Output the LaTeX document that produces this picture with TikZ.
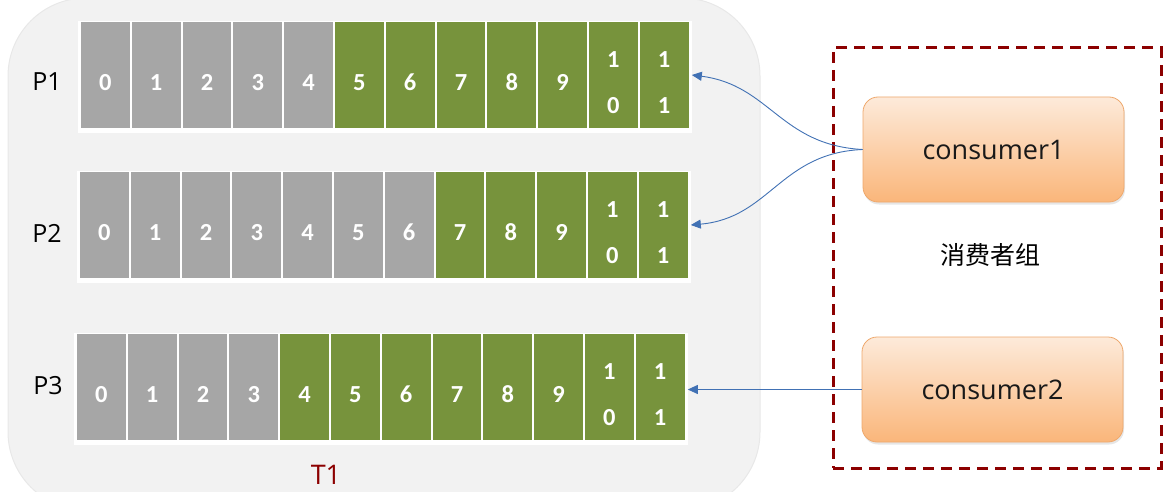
\documentclass[tikz,border=0pt]{standalone}
\usepackage{fontspec}
\setmainfont{Open Sans}
\newfontfamily\digitfont{Carlito}
\newfontfamily\cjkfont{Noto Sans CJK SC}
\usetikzlibrary{arrows.meta,shadows}
\definecolor{bggray}{RGB}{242,242,242}
\definecolor{cellgray}{RGB}{166,166,166}
\definecolor{cellgreen}{RGB}{119,147,60}
\definecolor{grpred}{RGB}{140,0,0}
\definecolor{connblue}{RGB}{65,113,180}
\definecolor{constop}{RGB}{253,234,218}
\definecolor{consbot}{RGB}{250,182,122}
\definecolor{consedge}{RGB}{238,168,108}
\newcommand\celA[1]{\raisebox{-15.5pt}[0pt][0pt]{\makebox[0pt]{#1}}}
\newcommand\celB[2]{\raisebox{-15.5pt}[0pt][0pt]{\makebox[0pt]{\raisebox{23pt}{#1}}\makebox[0pt]{\raisebox{-23pt}{#2}}}}
\tikzset{
  cellbox/.style={minimum width=48.8pt, minimum height=106pt, inner sep=0pt, text=white,
    font=\digitfont\bfseries\fontsize{24.5}{24.5}\selectfont},
  plab/.style={font=\fontsize{25}{25}\selectfont, text=black, inner sep=0pt},
  cons/.style={rounded corners=15pt, minimum width=261pt, minimum height=105pt,
    top color=constop, bottom color=consbot, draw=consedge, line width=0.8pt,
    font=\fontsize{27}{27}\selectfont, text=black!90,
    drop shadow={opacity=0.2, shadow xshift=1pt, shadow yshift=-2.5pt}},
  grpbox/.style={draw=grpred, line width=3pt, dash pattern=on 11pt off 7pt,
    minimum width=328pt, minimum height=420pt, inner sep=0pt},
  conn/.style={draw=connblue, line width=0.9pt, -{Triangle[length=10pt,width=9pt]}},
}
\begin{document}
\begin{tikzpicture}[x=1pt,y=-1pt]
\useasboundingbox (0,0) rectangle (1175,492);
% topic background
\fill[bggray, draw=gray!18, line width=1pt, rounded corners=78pt] (8,-2) rectangle (760,510);
% partitions
\foreach \r/\x/\y/\g in {1/80/22/5, 2/79/172/7, 3/76/334/4}{
  \fill[white] (\x-2,\y-1) rectangle ({\x+12*50.8+2},\y+111);
  \foreach \i in {0,...,11}{
    \ifnum\i<\g \def\cc{cellgray}\else\def\cc{cellgreen}\fi
    \ifnum\i<10 \def\ctext{\celA{\i}}\else
      \ifnum\i=10 \def\ctext{\celB{1}{0}}\else\def\ctext{\celB{1}{1}}\fi
    \fi
    \node[cellbox, fill=\cc] (p\r c\i) at ({\x+(\i+0.5)*50.8},\y+53) {\ctext};
  }
}
\node[plab] (lp1) at (47,82) {P1};
\node[plab] (lp2) at (47,233) {P2};
\node[plab] (lp3) at (48,386) {P3};
\node[plab, font=\fontsize{27}{27}\selectfont, text=grpred] (t1) at (326,475) {T1};
% consumer group
\node[grpbox] (grp) at (997,258) {};
\node[cons] (c1) at (993.5,149.5) {consumer1};
\node[cons] (c2) at (992.5,389.5) {consumer2};
\node[font=\cjkfont\fontsize{25}{25}\selectfont, inner sep=0pt] (glab) at (990,255) {消费者组};
% connectors
\coordinate (e1) at ([xshift=3pt]p1c11.east);
\coordinate (e2) at ([xshift=3pt]p2c11.east);
\coordinate (e3) at ([xshift=3pt]p3c11.east);
\draw[conn] (c1.west) .. controls (780,145) and (770,85) .. (e1);
\draw[conn] (c1.west) .. controls (780,153) and (770,218) .. (e2);
\draw[conn] (c2.west) -- (c2.west -| e3);
\end{tikzpicture}
\end{document}
